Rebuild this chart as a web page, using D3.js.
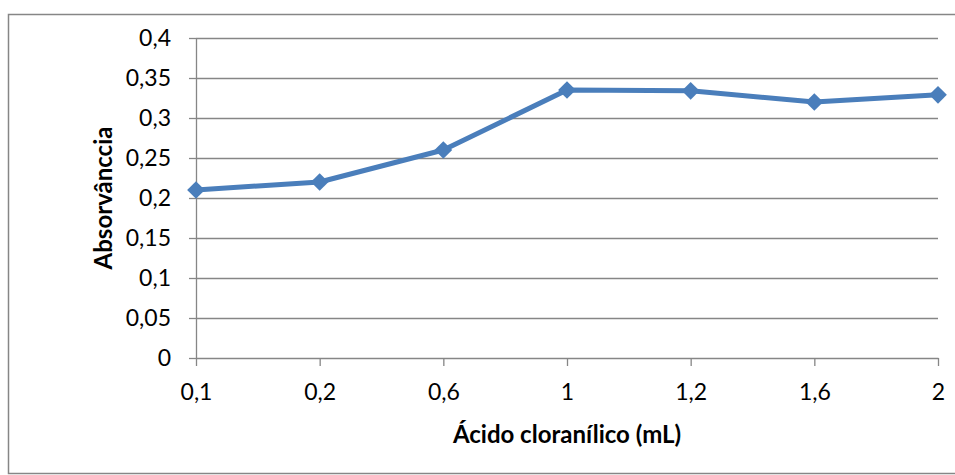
<!DOCTYPE html>
<html>

<head>
    <meta charset="utf-8">
    <style>
        body {
            margin: 0;
            background: #fff;
        }

        svg {
            font-family: Lato, 'Liberation Sans', sans-serif;
        }

        .grid line {
            stroke: #868686;
            stroke-width: 1.3px;
        }

        .grid .domain {
            display: none;
        }

        .axis .domain,
        .axis .tick line {
            stroke: #868686;
            stroke-width: 1.3px;
        }
    </style>
</head>

<body>
    <svg width="955" height="475"></svg>

    <script src="https://d3js.org/d3.v7.min.js"></script>
    <script>
        // data
        let categories = ["0,1", "0,2", "0,6", "1", "1,2", "1,6", "2"];
        let absorbance = [0.21, 0.22, 0.26, 0.335, 0.334, 0.32, 0.329];
        let yTicks = [0, 0.05, 0.1, 0.15, 0.2, 0.25, 0.3, 0.35, 0.4];

        let svg = d3.select("svg");

        let margin = { top: 38, right: 17, bottom: 117, left: 196 };
        let width = 955;
        let height = 475;

        // outer frame of the chart
        svg.append("rect")
            .attr("x", 8.5)
            .attr("y", 14.5)
            .attr("width", 960)
            .attr("height", 459)
            .attr("fill", "none")
            .attr("stroke", "#868686")
            .attr("stroke-width", 1.5);

        let x = d3.scalePoint()
            .domain(categories)
            .range([margin.left, width - margin.right]);

        let y = d3.scaleLinear()
            .domain([0, 0.4])
            .range([height - margin.bottom, margin.top]);

        let fmt = d => String(+d.toFixed(2)).replace(".", ",");

        // horizontal gridlines
        svg.append("g")
            .attr("class", "grid")
            .attr("transform", `translate(${margin.left},0)`)
            .call(d3.axisRight(y)
                .tickValues(yTicks.slice(1))
                .tickSize(width - margin.right - margin.left)
                .tickFormat(""));

        // y axis
        svg.append("g")
            .attr("class", "axis")
            .attr("transform", `translate(${margin.left},0)`)
            .call(d3.axisLeft(y)
                .tickValues(yTicks)
                .tickSize(7)
                .tickSizeOuter(0)
                .tickPadding(18)
                .tickFormat(fmt));

        // x axis
        svg.append("g")
            .attr("class", "axis")
            .attr("transform", `translate(0,${height - margin.bottom})`)
            .call(d3.axisBottom(x)
                .tickSize(8)
                .tickSizeOuter(0)
                .tickPadding(18));

        // d3 puts its own font on the axis groups, override it
        svg.selectAll(".axis")
            .attr("font-family", "Lato, 'Liberation Sans', sans-serif")
            .attr("font-size", 23)
            .selectAll("text")
            .attr("fill", "#000");

        let data = categories.map((c, i) => ({ cat: c, value: absorbance[i] }));

        let line = d3.line()
            .x(d => x(d.cat))
            .y(d => y(d.value));

        svg.append("path")
            .datum(data)
            .attr("d", line)
            .attr("fill", "none")
            .attr("stroke", "#4A7EBB")
            .attr("stroke-width", 5)
            .attr("stroke-linejoin", "round");

        svg.append("g")
            .selectAll("path")
            .data(data)
            .join("path")
            .attr("d", d3.symbol().type(d3.symbolDiamond2).size(200))
            .attr("transform", d => `translate(${x(d.cat)},${y(d.value)})`)
            .attr("fill", "#4A7EBB");

        // axis titles
        svg.append("text")
            .attr("x", (margin.left + width - margin.right) / 2)
            .attr("y", 443)
            .attr("text-anchor", "middle")
            .attr("font-size", 24)
            .attr("font-weight", "bold")
            .text("Ácido cloranílico (mL)");

        svg.append("text")
            .attr("transform", `translate(112,${(margin.top + height - margin.bottom) / 2}) rotate(-90)`)
            .attr("text-anchor", "middle")
            .attr("font-size", 24)
            .attr("font-weight", "bold")
            .text("Absorvânccia");
    </script>
</body>

</html>
